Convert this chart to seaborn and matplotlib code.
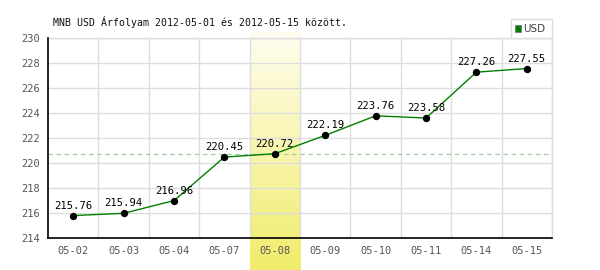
import numpy as np
import pandas as pd
import matplotlib
matplotlib.use("Agg")
import matplotlib.pyplot as plt
import seaborn as sns
from matplotlib.colors import LinearSegmentedColormap
from matplotlib.patches import Rectangle

dates = ["05-02", "05-03", "05-04", "05-07", "05-08", "05-09", "05-10", "05-11", "05-14", "05-15"]
rates = [215.76, 215.94, 216.96, 220.45, 220.72, 222.19, 223.76, 223.58, 227.26, 227.55]
highlight = "05-08"
ref_value = 220.72
title = "MNB USD Árfolyam 2012-05-01 és 2012-05-15 között."
series_name = "USD"

df = pd.DataFrame({"date": dates, "rate": rates})

sns.set_theme(style="white")
plt.rcParams["font.family"] = ["DejaVu Sans Mono", "DejaVu Sans"]

fig = plt.figure(figsize=(6, 2.7), dpi=100)
ax = fig.add_axes([48 / 600, 1 - 237.5 / 270, (552 - 48) / 600, (237.5 - 38) / 270])
ax.set_facecolor("none")

ymin, ymax = 214, 230
ax.set_xlim(-0.5, len(dates) - 0.5)
ax.set_ylim(ymin, ymax)

# highlight band with gradient extending to bottom of figure
hi = dates.index(highlight)
px_per_unit = (237.5 - 38) / (ymax - ymin)
band_bottom = ymin - 32.5 / px_per_unit
band_top = ymax + 6 / px_per_unit
cmap = LinearSegmentedColormap.from_list("band", ["#fffdf0", "#f0ec6a"])
grad = np.linspace(0, 1, 256).reshape(-1, 1)
ax.imshow(grad, extent=(hi - 0.5, hi + 0.5, band_bottom, band_top), cmap=cmap,
          aspect="auto", origin="upper", clip_on=False, zorder=0)
ax.set_xlim(-0.5, len(dates) - 0.5)
ax.set_ylim(ymin, ymax)

# grid
for y in range(ymin, ymax + 1, 2):
    ax.axhline(y, color="#dddddd", lw=1, zorder=1)
for i in range(len(dates)):
    ax.axvline(i + 0.5, color="#dddddd", lw=1, zorder=1)

# reference dashed line
ax.axhline(ref_value, color="#a3cca3", lw=0.9, ls=(0, (3.5, 3)), zorder=1.5)

sns.lineplot(data=df, x="date", y="rate", color="#008000", lw=1, ax=ax, zorder=3, sort=False)
sns.scatterplot(data=df, x="date", y="rate", color="black", s=28, edgecolor="black",
                linewidth=0, ax=ax, zorder=4)

for i, v in enumerate(rates):
    ax.text(i, v + 0.4, f"{v:.2f}", ha="center", va="bottom", fontsize=7.6,
            color="black", zorder=5)

ax.set_xlim(-0.5, len(dates) - 0.5)
ax.set_ylim(ymin, ymax)
ax.set_yticks(range(ymin, ymax + 1, 2))
ax.set_xlabel("")
ax.set_ylabel("")
ax.tick_params(axis="both", length=0, labelsize=7.5, labelcolor="#555555")
ax.tick_params(axis="x", pad=6)
ax.tick_params(axis="y", pad=6)

for s in ["left", "bottom"]:
    ax.spines[s].set_color("black")
    ax.spines[s].set_linewidth(1.2)
for s in ["top", "right"]:
    ax.spines[s].set_color("#dddddd")
    ax.spines[s].set_linewidth(1)
ax.spines["left"].set_zorder(6)
ax.spines["bottom"].set_zorder(6)

fig.text(53 / 600, 1 - 22 / 270, title, fontsize=7.1, color="#111111", va="center", ha="left")

# legend box
lx0, lx1, ly0, ly1 = 511, 552, 19, 38
fig.patches.append(Rectangle((lx0 / 600, 1 - ly1 / 270), (lx1 - lx0) / 600, (ly1 - ly0) / 270,
                             transform=fig.transFigure, facecolor="white", edgecolor="#dddddd", lw=1))
fig.patches.append(Rectangle((515 / 600, 1 - 31.5 / 270), 6 / 600, 6 / 270,
                             transform=fig.transFigure, facecolor="#008000", edgecolor="#777777", lw=0.6))
fig.text(523.5 / 600, 1 - 28.5 / 270, series_name, fontsize=7.5, color="#444444",
         va="center", ha="left", family=["DejaVu Sans"])

fig.savefig("out.png", dpi=100)
